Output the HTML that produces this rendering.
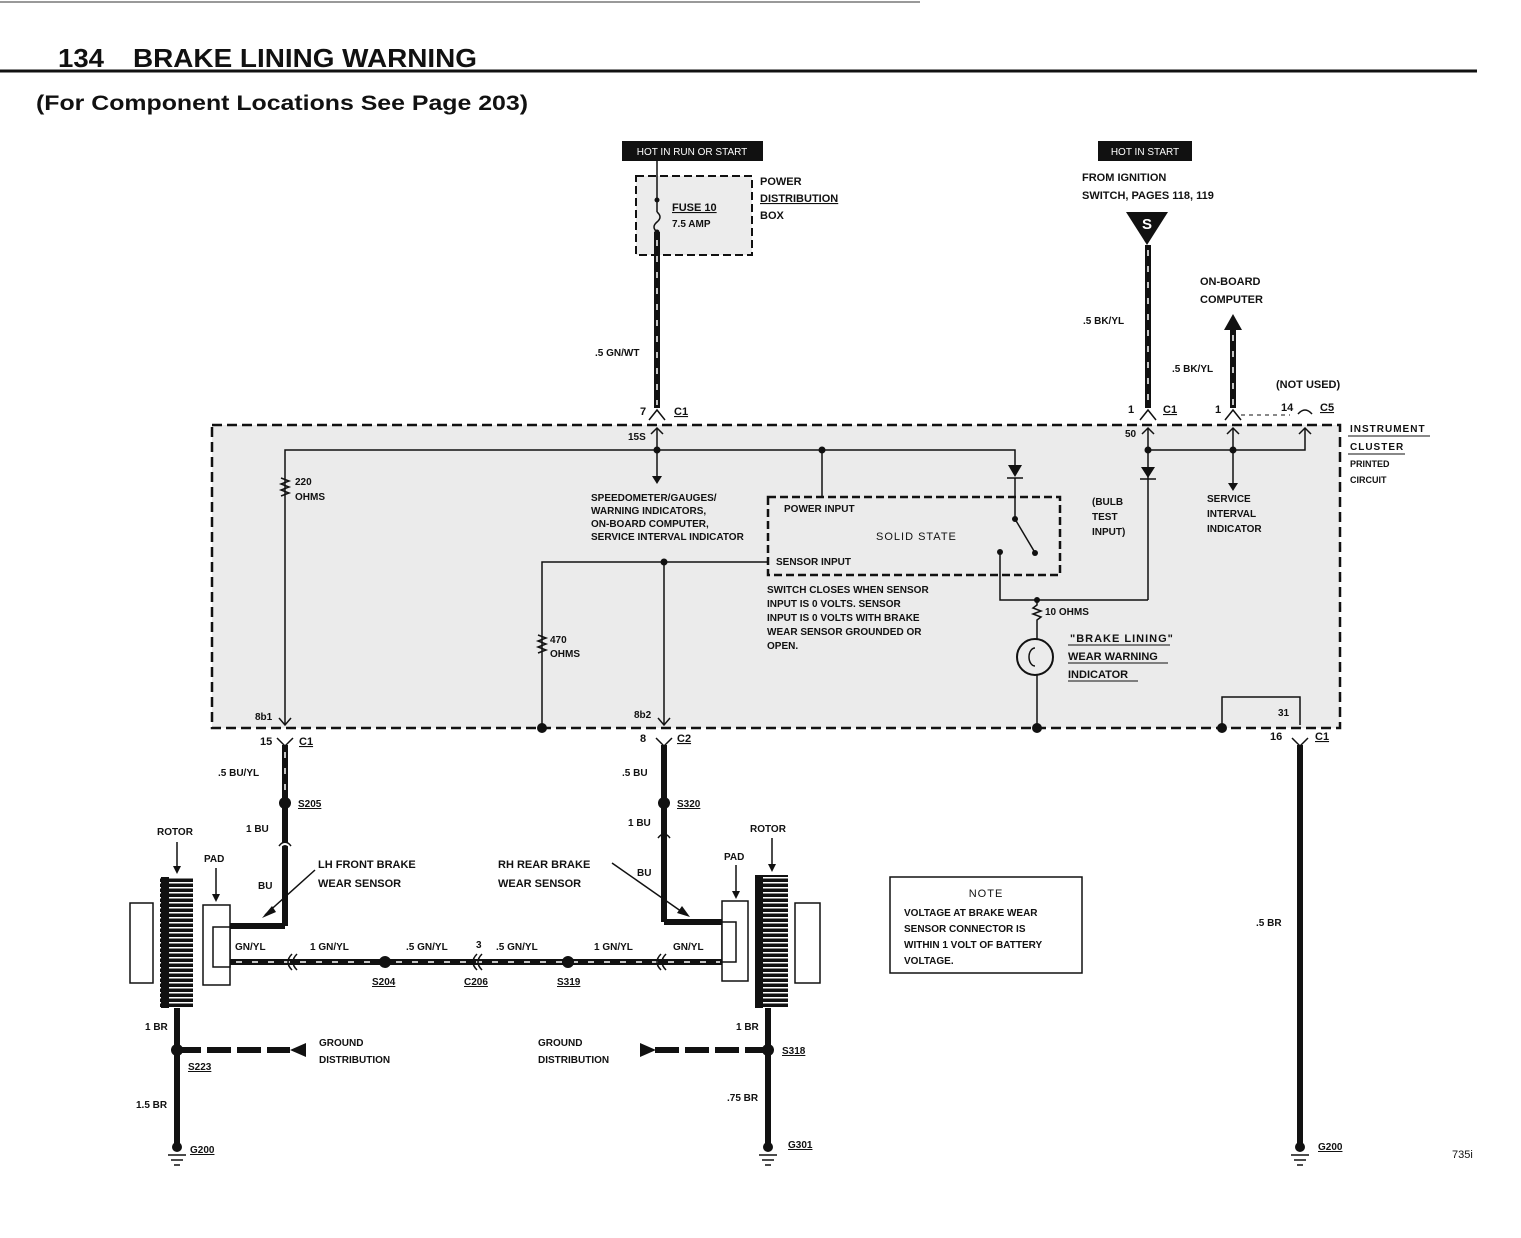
<!DOCTYPE html>
<html><head><meta charset="utf-8"><style>
html,body{margin:0;padding:0;background:#fff;}
svg{display:block;font-family:"Liberation Sans",sans-serif;}
.t{font-size:11px;font-weight:bold;fill:#111;}
.s{font-size:10px;font-weight:bold;fill:#111;}
.w{stroke:#111;stroke-width:6;fill:none;}
.n{stroke:#111;stroke-width:1.5;fill:none;}
.st{stroke:#fff;stroke-width:1.5;stroke-dasharray:6 10;fill:none;}
</style></head><body>
<svg width="1521" height="1238" viewBox="0 0 1521 1238" xmlns="http://www.w3.org/2000/svg">
<line x1="0" y1="2" x2="920" y2="2" stroke="#333" stroke-width="1"/>
<text x="58" y="67" font-size="26" font-weight="bold" fill="#111" textLength="46" lengthAdjust="spacingAndGlyphs">134</text>
<text x="133" y="67" font-size="26" font-weight="bold" fill="#111" textLength="344" lengthAdjust="spacingAndGlyphs">BRAKE LINING WARNING</text>
<line x1="0" y1="71" x2="1477" y2="71" stroke="#111" stroke-width="3"/>
<text x="36" y="110" font-size="21" font-weight="bold" fill="#111" textLength="492" lengthAdjust="spacingAndGlyphs">(For Component Locations See Page 203)</text>

<!-- hot labels -->
<rect x="622" y="141" width="141" height="20" fill="#111"/>
<text x="692" y="155" font-size="10" fill="#fff" text-anchor="middle">HOT IN RUN OR START</text>
<rect x="1098" y="141" width="94" height="20" fill="#111"/>
<text x="1145" y="155" font-size="10" fill="#fff" text-anchor="middle">HOT IN START</text>

<!-- fuse box -->
<rect x="636" y="176" width="116" height="79" fill="#ececec" stroke="#111" stroke-width="2" stroke-dasharray="8 4"/>
<line x1="657" y1="160" x2="657" y2="212" class="n"/>
<path d="M657 212 q6 5 0 10 q-6 5 0 10" class="n"/>
<circle cx="657" cy="200" r="2.5" fill="#111"/><circle cx="657" cy="232" r="2.5" fill="#111"/>
<text x="672" y="211" class="t" text-decoration="underline">FUSE 10</text>
<text x="672" y="227" class="s">7.5 AMP</text>
<text x="760" y="185" class="t">POWER</text>
<text x="760" y="202" class="t" text-decoration="underline">DISTRIBUTION</text>
<text x="760" y="219" class="t">BOX</text>
<line x1="657" y1="232" x2="657" y2="408" class="w"/><line x1="657" y1="240" x2="657" y2="405" class="st"/>
<text x="595" y="356" class="s">.5 GN/WT</text>
<path d="M649 420 l8 -10 l8 10" class="n" stroke-width="3"/>
<text x="640" y="415" class="t">7</text><text x="674" y="415" class="t" text-decoration="underline">C1</text>

<!-- S source -->
<text x="1082" y="181" class="t">FROM IGNITION</text>
<text x="1082" y="199" class="t">SWITCH, PAGES 118, 119</text>
<polygon points="1126,212 1168,212 1147,245" fill="#111"/>
<text x="1147" y="229" font-size="15" font-weight="bold" fill="#fff" text-anchor="middle">S</text>
<line x1="1148" y1="245" x2="1148" y2="408" class="w"/><line x1="1148" y1="250" x2="1148" y2="405" class="st"/>
<text x="1083" y="324" class="s">.5 BK/YL</text>
<path d="M1140 420 l8 -10 l8 10" class="n" stroke-width="3"/>
<text x="1128" y="413" class="t">1</text><text x="1163" y="413" class="t" text-decoration="underline">C1</text>
<text x="1200" y="285" class="t">ON-BOARD</text><text x="1200" y="303" class="t">COMPUTER</text>
<polygon points="1224,330 1233,314 1242,330" fill="#111"/>
<line x1="1233" y1="328" x2="1233" y2="408" class="w"/><line x1="1233" y1="335" x2="1233" y2="405" class="st"/>
<text x="1172" y="372" class="s">.5 BK/YL</text>
<path d="M1225 420 l8 -10 l8 10" class="n" stroke-width="3"/>
<text x="1215" y="413" class="t">1</text>
<text x="1276" y="388" class="t">(NOT USED)</text>
<line x1="1241" y1="415" x2="1290" y2="415" stroke="#111" stroke-dasharray="4 4"/>
<text x="1281" y="411" class="t">14</text>
<path d="M1298 414 q7 -8 14 0" class="n" stroke-width="3"/>
<text x="1320" y="411" class="t" text-decoration="underline">C5</text>

<!-- cluster box -->
<rect x="212" y="425" width="1128" height="303" fill="#ebebeb" stroke="#111" stroke-width="2.5" stroke-dasharray="10 5"/>
<text x="1350" y="432" class="s" letter-spacing="1">INSTRUMENT</text>
<line x1="1348" y1="436" x2="1430" y2="436" stroke="#111"/>
<text x="1350" y="450" class="s" letter-spacing="1">CLUSTER</text>
<line x1="1348" y1="454" x2="1405" y2="454" stroke="#111"/>
<text x="1350" y="467" font-size="9" font-weight="bold" fill="#111">PRINTED</text>
<text x="1350" y="483" font-size="9" font-weight="bold" fill="#111">CIRCUIT</text>

<!-- internal circuit -->
<path d="M657 428 v22" class="n"/><path d="M651 434 l6 -6 l6 6" class="n"/>
<text x="628" y="440" class="s">15S</text>
<path d="M285 725 V450 H1015 V465" class="n"/>
<path d="M281 478 l8 3 l-8 3 l8 3 l-8 3 l8 3 l-8 3" class="n"/>
<text x="295" y="485" class="s">220</text><text x="295" y="500" class="s">OHMS</text>
<circle cx="657" cy="450" r="3.5" fill="#111"/><circle cx="822" cy="450" r="3.5" fill="#111"/>
<line x1="657" y1="450" x2="657" y2="478" class="n"/><polygon points="652,476 657,484 662,476" fill="#111"/>
<text x="591" y="501" class="s">SPEEDOMETER/GAUGES/</text>
<text x="591" y="514" class="s">WARNING INDICATORS,</text>
<text x="591" y="527" class="s">ON-BOARD COMPUTER,</text>
<text x="591" y="540" class="s">SERVICE INTERVAL INDICATOR</text>
<line x1="822" y1="450" x2="822" y2="497" class="n"/>
<rect x="768" y="497" width="292" height="78" fill="none" stroke="#111" stroke-width="2.5" stroke-dasharray="8 4"/>
<text x="784" y="512" class="s">POWER INPUT</text>
<text x="876" y="540" font-size="11" fill="#111" letter-spacing="1">SOLID STATE</text>
<text x="776" y="565" class="s">SENSOR INPUT</text>
<polygon points="1008,465 1022,465 1015,477" fill="#111"/><line x1="1007" y1="478" x2="1023" y2="478" class="n" stroke-width="2"/>
<line x1="1015" y1="478" x2="1015" y2="518" class="n"/>
<circle cx="1015" cy="519" r="3" fill="#111"/>
<line x1="1015" y1="519" x2="1034" y2="551" class="n"/><circle cx="1035" cy="553" r="3" fill="#111"/>
<circle cx="1000" cy="552" r="3" fill="#111"/>
<path d="M1000 552 V600 H1148" class="n"/>
<path d="M542 728 V562 H768" class="n"/>
<circle cx="664" cy="562" r="3.5" fill="#111"/>
<line x1="664" y1="562" x2="664" y2="725" class="n"/>
<path d="M538 635 l8 3 l-8 3 l8 3 l-8 3 l8 3 l-8 3" class="n"/>
<text x="550" y="643" class="s">470</text><text x="550" y="657" class="s">OHMS</text>
<text x="767" y="593" class="s">SWITCH CLOSES WHEN SENSOR</text>
<text x="767" y="607" class="s">INPUT IS 0 VOLTS.  SENSOR</text>
<text x="767" y="621" class="s">INPUT IS 0 VOLTS WITH BRAKE</text>
<text x="767" y="635" class="s">WEAR SENSOR GROUNDED OR</text>
<text x="767" y="649" class="s">OPEN.</text>
<circle cx="1037" cy="600" r="3" fill="#111"/>
<path d="M1037 600 V605 l-4 3 l8 3 l-8 3 l8 3 l-4 3 V639" class="n"/>
<text x="1045" y="615" class="s">10 OHMS</text>
<circle cx="1035" cy="657" r="18" fill="none" stroke="#111" stroke-width="2"/>
<path d="M1035 648 a6 9 0 1 0 0 18" class="n"/>
<line x1="1037" y1="675" x2="1037" y2="728" class="n"/>
<text x="1070" y="642" class="t" letter-spacing="1">"BRAKE LINING"</text>
<line x1="1068" y1="645" x2="1170" y2="645" stroke="#111"/>
<text x="1068" y="660" class="t">WEAR WARNING</text><line x1="1068" y1="663" x2="1168" y2="663" stroke="#111"/>
<text x="1068" y="678" class="t">INDICATOR</text><line x1="1068" y1="681" x2="1138" y2="681" stroke="#111"/>
<!-- right internal -->
<path d="M1148 428 V600" class="n"/><path d="M1142 434 l6 -6 l6 6" class="n"/>
<text x="1125" y="437" class="s">50</text>
<path d="M1148 450 H1305 V428" class="n"/><path d="M1299 434 l6 -6 l6 6" class="n"/>
<circle cx="1148" cy="450" r="3.5" fill="#111"/><circle cx="1233" cy="450" r="3.5" fill="#111"/>
<path d="M1233 428 V485" class="n"/><path d="M1227 434 l6 -6 l6 6" class="n"/>
<polygon points="1228,483 1233,491 1238,483" fill="#111"/>
<polygon points="1141,467 1155,467 1148,478" fill="#111"/><line x1="1140" y1="479" x2="1156" y2="479" class="n" stroke-width="2"/>
<text x="1092" y="505" class="s">(BULB</text><text x="1092" y="520" class="s">TEST</text><text x="1092" y="535" class="s">INPUT)</text>
<text x="1207" y="502" class="s">SERVICE</text><text x="1207" y="517" class="s">INTERVAL</text><text x="1207" y="532" class="s">INDICATOR</text>
<path d="M1222 728 V697 H1300 V725" class="n"/>
<text x="1278" y="716" class="s">31</text>
<!-- bottom nodes on box -->
<circle cx="542" cy="728" r="5" fill="#111"/><circle cx="1037" cy="728" r="5" fill="#111"/><circle cx="1222" cy="728" r="5" fill="#111"/>
<path d="M279 718 l6 7 l6 -7" class="n"/><text x="255" y="720" class="s">8b1</text>
<path d="M658 718 l6 7 l6 -7" class="n"/><text x="634" y="718" class="s">8b2</text>

<!-- bottom left wire -->
<path d="M277 738 l8 8 l8 -8" class="n" stroke-width="3"/>
<text x="260" y="745" class="t">15</text><text x="299" y="745" class="t" text-decoration="underline">C1</text>
<line x1="285" y1="745" x2="285" y2="926" class="w"/><line x1="285" y1="752" x2="285" y2="795" class="st"/>
<text x="218" y="776" class="s">.5 BU/YL</text>
<circle cx="285" cy="803" r="6" fill="#111"/><text x="298" y="807" class="s" text-decoration="underline">S205</text>
<text x="246" y="832" class="s">1 BU</text>
<path d="M279 848 q6 -8 12 0" stroke="#fff" stroke-width="2" fill="none"/>
<path d="M279 846 q6 -8 12 0" class="n" stroke-width="2"/>
<path d="M285 926 H230" class="w"/>
<text x="258" y="889" class="s">BU</text>
<line x1="315" y1="870" x2="265" y2="915" class="n" stroke-width="1"/><polygon points="262,918 272,906 276,912" fill="#111"/>
<text x="318" y="868" class="t">LH FRONT BRAKE</text><text x="318" y="887" class="t">WEAR SENSOR</text>

<!-- bottom mid wire -->
<path d="M656 738 l8 8 l8 -8" class="n" stroke-width="3"/>
<text x="640" y="742" class="t">8</text><text x="677" y="742" class="t" text-decoration="underline">C2</text>
<line x1="664" y1="745" x2="664" y2="922" class="w"/>
<text x="622" y="776" class="s">.5 BU</text>
<circle cx="664" cy="803" r="6" fill="#111"/><text x="677" y="807" class="s" text-decoration="underline">S320</text>
<text x="628" y="826" class="s">1 BU</text>
<path d="M658 838 q6 -8 12 0" class="n" stroke-width="2"/>
<path d="M664 922 H722" class="w"/>
<text x="637" y="876" class="s">BU</text>
<line x1="612" y1="863" x2="685" y2="914" class="n" stroke-width="1"/><polygon points="690,917 677,913 682,906" fill="#111"/>
<text x="498" y="868" class="t">RH REAR BRAKE</text><text x="498" y="887" class="t">WEAR SENSOR</text>

<!-- GN/YL wire -->
<line x1="230" y1="962" x2="722" y2="962" class="w"/><line x1="236" y1="962" x2="720" y2="962" class="st"/>
<circle cx="385" cy="962" r="6" fill="#111"/><circle cx="568" cy="962" r="6" fill="#111"/>
<path d="M292 954 q-8 8 0 16 M297 954 q-8 8 0 16" class="n" stroke-width="2"/>
<path d="M477 954 q-8 8 0 16 M482 954 q-8 8 0 16" class="n" stroke-width="2"/>
<path d="M661 954 q-8 8 0 16 M666 954 q-8 8 0 16" class="n" stroke-width="2"/>
<text x="235" y="950" class="s">GN/YL</text><text x="310" y="950" class="s">1 GN/YL</text>
<text x="406" y="950" class="s">.5 GN/YL</text><text x="476" y="948" class="s">3</text>
<text x="496" y="950" class="s">.5 GN/YL</text><text x="594" y="950" class="s">1 GN/YL</text>
<text x="673" y="950" class="s">GN/YL</text>
<text x="372" y="985" class="s" text-decoration="underline">S204</text>
<text x="464" y="985" class="s" text-decoration="underline">C206</text>
<text x="557" y="985" class="s" text-decoration="underline">S319</text>

<!-- wheels -->
<defs><pattern id="h" width="33" height="5" patternUnits="userSpaceOnUse"><rect width="33" height="5" fill="#111"/><rect x="4" y="2" width="25" height="1.5" fill="#fff"/></pattern></defs>
<rect x="130" y="903" width="23" height="80" fill="#fff" stroke="#111" stroke-width="1.5"/>
<rect x="160" y="877" width="33" height="131" fill="url(#h)"/>
<rect x="203" y="905" width="27" height="80" fill="#fff" stroke="#111" stroke-width="1.5"/>
<rect x="213" y="927" width="17" height="40" fill="#fff" stroke="#111" stroke-width="1.5"/>
<rect x="722" y="901" width="26" height="80" fill="#fff" stroke="#111" stroke-width="1.5"/>
<rect x="722" y="922" width="14" height="40" fill="#fff" stroke="#111" stroke-width="1.5"/>
<rect x="755" y="875" width="33" height="133" fill="url(#h)"/>
<rect x="795" y="903" width="25" height="80" fill="#fff" stroke="#111" stroke-width="1.5"/>
<text x="157" y="835" class="s">ROTOR</text><line x1="177" y1="842" x2="177" y2="870" class="n" stroke-width="1"/><polygon points="173,866 177,874 181,866" fill="#111"/>
<text x="204" y="862" class="s">PAD</text><line x1="216" y1="868" x2="216" y2="898" class="n" stroke-width="1"/><polygon points="212,894 216,902 220,894" fill="#111"/>
<text x="750" y="832" class="s">ROTOR</text><line x1="772" y1="838" x2="772" y2="868" class="n" stroke-width="1"/><polygon points="768,864 772,872 776,864" fill="#111"/>
<text x="724" y="860" class="s">PAD</text><line x1="736" y1="865" x2="736" y2="895" class="n" stroke-width="1"/><polygon points="732,891 736,899 740,891" fill="#111"/>

<!-- grounds -->
<line x1="177" y1="1008" x2="177" y2="1148" class="w"/>
<text x="145" y="1030" class="s">1 BR</text>
<circle cx="177" cy="1050" r="6" fill="#111"/>
<line x1="177" y1="1050" x2="290" y2="1050" stroke="#111" stroke-width="6" stroke-dasharray="24 6"/>
<polygon points="290,1050 306,1043 306,1057" fill="#111"/>
<text x="319" y="1046" class="s">GROUND</text><text x="319" y="1063" class="s">DISTRIBUTION</text>
<text x="188" y="1070" class="s" text-decoration="underline">S223</text>
<text x="136" y="1108" class="s">1.5 BR</text>
<circle cx="177" cy="1147" r="5" fill="#111"/>
<path d="M168 1155 h18 M171 1160 h12 M174 1165 h6" class="n"/>
<text x="190" y="1153" class="s" text-decoration="underline">G200</text>

<line x1="768" y1="1008" x2="768" y2="1148" class="w"/>
<text x="736" y="1030" class="s">1 BR</text>
<circle cx="768" cy="1050" r="6" fill="#111"/>
<line x1="655" y1="1050" x2="768" y2="1050" stroke="#111" stroke-width="6" stroke-dasharray="24 6"/>
<polygon points="656,1050 640,1043 640,1057" fill="#111"/>
<text x="538" y="1046" class="s">GROUND</text><text x="538" y="1063" class="s">DISTRIBUTION</text>
<text x="782" y="1054" class="s" text-decoration="underline">S318</text>
<text x="727" y="1101" class="s">.75 BR</text>
<circle cx="768" cy="1147" r="5" fill="#111"/>
<path d="M759 1155 h18 M762 1160 h12 M765 1165 h6" class="n"/>
<text x="788" y="1148" class="s" text-decoration="underline">G301</text>

<path d="M1292 738 l8 8 l8 -8" class="n" stroke-width="3"/>
<text x="1270" y="740" class="t">16</text><text x="1315" y="740" class="t" text-decoration="underline">C1</text>
<line x1="1300" y1="745" x2="1300" y2="1148" class="w"/>
<text x="1256" y="926" class="s">.5 BR</text>
<circle cx="1300" cy="1147" r="5" fill="#111"/>
<path d="M1291 1155 h18 M1294 1160 h12 M1297 1165 h6" class="n"/>
<text x="1318" y="1150" class="s" text-decoration="underline">G200</text>
<text x="1452" y="1158" font-size="11" fill="#111">735i</text>

<!-- note -->
<rect x="890" y="877" width="192" height="96" fill="#fff" stroke="#111" stroke-width="1.5"/>
<text x="986" y="897" font-size="11" fill="#111" text-anchor="middle" letter-spacing="1">NOTE</text>
<text x="904" y="916" class="s">VOLTAGE AT BRAKE WEAR</text>
<text x="904" y="932" class="s">SENSOR CONNECTOR IS</text>
<text x="904" y="948" class="s">WITHIN 1 VOLT OF BATTERY</text>
<text x="904" y="964" class="s">VOLTAGE.</text>
</svg>
</body></html>
